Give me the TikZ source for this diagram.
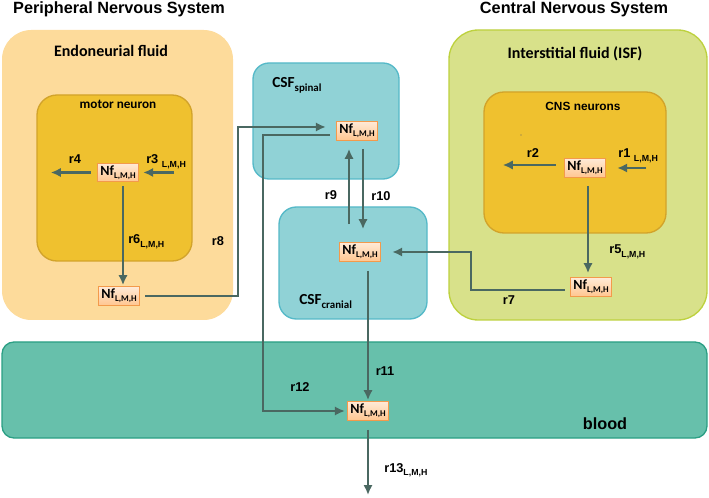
\documentclass[tikz,border=0pt]{standalone}
\usepackage{fontspec}
\setmainfont{Liberation Sans}
\setsansfont{Liberation Sans}
\newfontfamily\calib{Carlito}
\usetikzlibrary{arrows.meta,calc}
\definecolor{endo}{HTML}{FDDB9B}
\definecolor{neur}{HTML}{EFC12F}
\definecolor{neurb}{HTML}{D2A32A}
\definecolor{csf}{HTML}{90D2D6}
\definecolor{csfb}{HTML}{55B9C8}
\definecolor{isf}{HTML}{D8E18A}
\definecolor{isfb}{HTML}{BDD13E}
\definecolor{blood}{HTML}{67C0AB}
\definecolor{bloodb}{HTML}{2B9F84}
\definecolor{nftop}{HTML}{FFEAD6}
\definecolor{nfbot}{HTML}{FFC690}
\definecolor{nfb}{HTML}{F39A4B}
\definecolor{arrc}{HTML}{4A6861}
\newcommand\lmh{\raisebox{-0.45ex}{\fontsize{6.6}{7}\selectfont\bfseries L,M,H}}
\begin{document}
\begin{tikzpicture}[x=0.75pt,y=-0.75pt,
  region/.style={line width=1pt},
  nf/.style={draw=nfb, top color=nftop, bottom color=nfbot, line width=0.8pt,
    minimum width=31pt, minimum height=14pt, inner sep=1pt,
    font=\calib\bfseries\fontsize{10.5}{11}\selectfont},
  arr/.style={draw=arrc, line width=1.8pt, -{Latex[length=7.5pt,width=7pt]}},
  lab/.style={font=\bfseries\fontsize{9.6}{10}\selectfont, inner sep=0pt},
  title/.style={font=\bfseries\fontsize{12.2}{14}\selectfont, inner sep=0pt},
  ctitle/.style={font=\calib\bfseries\fontsize{12}{14}\selectfont, inner sep=0pt}
]
\useasboundingbox (0,0) rectangle (709,498);

% regions
\path[fill=endo, rounded corners=22pt] (2,30) rectangle (233,320);
\path[region, fill=neur, draw=neurb, rounded corners=15pt] (37,95) rectangle (192,261);
\path[region, fill=csf, draw=csfb, rounded corners=12pt] (253,63) rectangle (399,179);
\path[region, fill=csf, draw=csfb, rounded corners=13pt] (279,207) rectangle (427,319);
\path[region, fill=isf, draw=isfb, rounded corners=22pt] (449,30) rectangle (707,320);
\path[region, fill=neur, draw=neurb, rounded corners=15pt] (484,92) rectangle (666,233);
\path[region, fill=blood, draw=bloodb, rounded corners=9pt] (2,342) rectangle (707,438);
\fill[black!60] (521,135) circle (0.7);

% titles
\node[title] (tpns) at (119,9) {Peripheral Nervous System};
\node[title] (tcns) at (574,9) {Central Nervous System};
\node[ctitle] (tendo) at (111,51) {Endoneurial fluid};
\node[ctitle] (tisf) at (575,54) {Interstitial fluid (ISF)};
\node[font=\calib\bfseries\fontsize{9.9}{11}\selectfont, inner sep=0pt] (tmot) at (118,104) {motor neuron};
\node[font=\bfseries\fontsize{8.9}{10}\selectfont, inner sep=0pt] (tcnsn) at (583,106) {CNS neurons};
\node[ctitle, font=\calib\bfseries\fontsize{11.5}{13}\selectfont, anchor=base west] (tsp) at (272,88)
  {CSF\raisebox{-0.45ex}{\fontsize{8.2}{9}\selectfont spinal}};
\node[ctitle, font=\calib\bfseries\fontsize{11.5}{13}\selectfont, anchor=base west] (tcr) at (299,305)
  {CSF\raisebox{-0.45ex}{\fontsize{8.2}{9}\selectfont cranial}};
\node[title] (tblood) at (605,424) {blood};

% Nf nodes
\node[nf] (nm) at (118,172.5) {Nf\lmh};
\node[nf] (ne) at (119,296) {Nf\lmh};
\node[nf] (nsp) at (357,131) {Nf\lmh};
\node[nf] (ncr) at (360,252) {Nf\lmh};
\node[nf] (ncns) at (585,168) {Nf\lmh};
\node[nf] (nisf) at (591,287) {Nf\lmh};
\node[nf] (nbl) at (368,411) {Nf\lmh};

% helper coordinates
\coordinate (e4) at ($(nm.west)+(-46,0)$);
\coordinate (s3) at ($(nm.east)+(35,0)$);
\coordinate (t6) at ($(nm.south |- ne.north)+(5,-1)$);
\coordinate (c8) at (238,200);
\coordinate (c12) at (263,300);
\coordinate (c7) at (471,270);
\coordinate (t5) at ($(ncns.south |- nisf.north)+(3,-4)$);
\coordinate (e2) at ($(ncns.west)+(-61,-3)$);
\coordinate (s1) at ($(ncns.east)+(40,0)$);
\coordinate (e13) at (368,495);

% connectors
\draw[arr] ($(nm.west)+(-6,0)$) -- (e4);
\draw[arr] (s3) -- ($(nm.east)+(4,0)$);
\draw[arr] ($(nm.south)+(5,4)$) -- (t6);
\draw[arr] ($(ne.east)+(5,0)$) -| (c8) |- ($(nsp.west)+(-10,-4)$);
\draw[arr] ($(nsp.west)+(-6,4)$) -| (c12) |- ($(nbl.west)+(-2,0)$);
\draw[arr] ($(ncr.north)+(-11,-18)$) -- ($(nsp.south)+(-8,8)$);
\draw[arr] ($(nsp.south)+(6,8)$) -- ($(ncr.north)+(3,-13)$);
\draw[arr] ($(ncr.south)+(8,9)$) -- ($(nbl.north)+(0,-1)$);
\draw[arr] ($(nbl.south)+(0,9)$) -- (e13);
\draw[arr] ($(nisf.west)+(-5,3)$) -| (c7) |- ($(ncr.east)+(11,0)$);
\draw[arr] ($(ncns.south)+(3,8)$) -- (t5);
\draw[arr] ($(ncns.west)+(-8,-3)$) -- (e2);
\draw[arr] (s1) -- ($(ncns.east)+(11,0)$);

% labels
\node[lab] (l4) at (75,159) {r4};
\node[lab, anchor=base west] (l3) at (146,164) {r3 \lmh};
\node[lab, anchor=base west] (l6) at (128,244) {r6\lmh};
\node[lab] (l8) at (218,241) {r8};
\node[lab] (l9) at (331,195) {r9};
\node[lab] (l10) at (381,196) {r10};
\node[lab] (l11) at (385,371) {r11};
\node[lab] (l12) at (300,387) {r12};
\node[lab, anchor=base west] (l13) at (384,472) {r13\lmh};
\node[lab, anchor=base west] (l5) at (609,254) {r5\lmh};
\node[lab] (l7) at (509,300) {r7};
\node[lab] (l2) at (533,153) {r2};
\node[lab, anchor=base west] (l1) at (618,158) {r1 \lmh};
\end{tikzpicture}
\end{document}
